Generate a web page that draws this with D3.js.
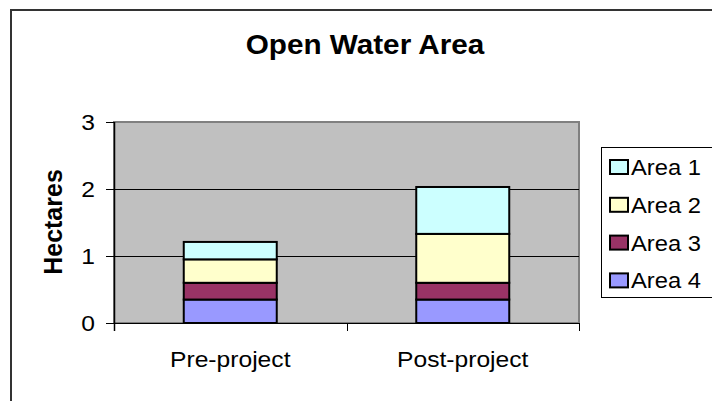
<!DOCTYPE html>
<html>
<head>
<meta charset="utf-8">
<script src="https://cdn.jsdelivr.net/npm/d3@7"></script>
<style>
  html, body { margin: 0; padding: 0; background: #fff; }
  svg { display: block; font-family: "Liberation Sans", Arial, sans-serif; }
</style>
</head>
<body>
<svg id="chart" width="712" height="401"></svg>
<script>
// Open water area (hectares) per project stage, split by area
const categories = ["Pre-project", "Post-project"];
const area1 = [0.26, 0.70];
const area2 = [0.35, 0.73];
const area3 = [0.25, 0.25];
const area4 = [0.35, 0.35];
const seriesNames = ["Area 1", "Area 2", "Area 3", "Area 4"];
const seriesColors = ["#CCFFFF", "#FFFFCC", "#993366", "#9999FF"];
const yTicks = [0, 1, 2, 3];

const rows = categories.map((c, i) => ({
  category: c,
  "Area 1": area1[i], "Area 2": area2[i], "Area 3": area3[i], "Area 4": area4[i]
}));

const svg = d3.select("#chart");
const plot = { left: 114, right: 579, top: 122, bottom: 323 };
const sx = 1.12; // horizontal text stretch

// outer chart frame
svg.append("rect")
  .attr("x", 11).attr("y", 10).attr("width", 740).attr("height", 420)
  .attr("fill", "#fff").attr("stroke", "#333").attr("stroke-width", 2);

const x = d3.scaleBand().domain(categories)
  .range([plot.left, plot.right]).paddingInner(0.6).paddingOuter(0.3);
const y = d3.scaleLinear().domain([0, 3]).range([plot.bottom, plot.top]);

// plot area background
svg.append("rect")
  .attr("x", plot.left).attr("y", plot.top)
  .attr("width", plot.right - plot.left).attr("height", plot.bottom - plot.top)
  .attr("fill", "#C0C0C0").attr("stroke", "#808080").attr("stroke-width", 2);

// horizontal gridlines
svg.append("g").selectAll("line").data(yTicks.filter(t => t > 0 && t < 3)).join("line")
  .attr("x1", plot.left).attr("x2", plot.right)
  .attr("y1", d => Math.round(y(d)) + 0.5).attr("y2", d => Math.round(y(d)) + 0.5)
  .attr("stroke", "#000").attr("stroke-width", 1);

// stacked bars (bottom: Area 4)
const stack = d3.stack().keys(seriesNames.slice().reverse());
const layers = stack(rows);
svg.append("g").selectAll("g").data(layers).join("g")
  .attr("fill", d => seriesColors[seriesNames.indexOf(d.key)])
  .selectAll("rect").data(d => d).join("rect")
  .attr("x", d => x(d.data.category))
  .attr("width", x.bandwidth())
  .attr("y", d => y(d[1]))
  .attr("height", d => y(d[0]) - y(d[1]))
  .attr("stroke", "#000").attr("stroke-width", 2);

// y axis
const yAxis = d3.axisLeft(y).tickValues(yTicks).tickSize(8).tickPadding(10).tickFormat(d3.format("d"));
const gy = svg.append("g").attr("transform", `translate(${plot.left},0)`).call(yAxis);
gy.select(".domain").remove();
gy.selectAll(".tick line").attr("stroke", "#000").attr("stroke-width", 1);
gy.selectAll(".tick text")
  .attr("font-size", 22).attr("fill", "#000").attr("font-family", "Liberation Sans, Arial, sans-serif")
  .attr("dy", "0.36em")
  .attr("transform", `scale(${sx},1)`)
  .attr("x", -19 / sx);

// vertical axis line
svg.append("line")
  .attr("x1", plot.left + 0.5).attr("x2", plot.left + 0.5)
  .attr("y1", plot.top).attr("y2", plot.bottom + 8)
  .attr("stroke", "#000").attr("stroke-width", 1.5);

// category axis: line plus ticks at category boundaries
svg.append("line")
  .attr("x1", plot.left).attr("x2", plot.right)
  .attr("y1", plot.bottom + 0.5).attr("y2", plot.bottom + 0.5)
  .attr("stroke", "#000").attr("stroke-width", 1);
const boundaries = d3.range(categories.length + 1).map(i => plot.left + i * x.step());
svg.append("g").selectAll("line").data(boundaries).join("line")
  .attr("x1", d => Math.round(d) + 0.5).attr("x2", d => Math.round(d) + 0.5)
  .attr("y1", plot.bottom).attr("y2", plot.bottom + 8)
  .attr("stroke", "#000").attr("stroke-width", 1);

// category labels
svg.append("g").selectAll("text").data(categories).join("text")
  .attr("transform", d => `translate(${x(d) + x.bandwidth() / 2},367) scale(${sx},1)`)
  .attr("text-anchor", "middle").attr("font-size", 22).attr("fill", "#000")
  .text(d => d);

// title
svg.append("text")
  .attr("transform", `translate(365,54) scale(1.1,1)`)
  .attr("text-anchor", "middle").attr("font-size", 27).attr("font-weight", "bold")
  .text("Open Water Area");

// y axis title
svg.append("text")
  .attr("transform", "translate(62,222) rotate(-90)")
  .attr("text-anchor", "middle").attr("font-size", 25).attr("font-weight", "bold")
  .text("Hectares");

// legend
const legend = svg.append("g");
legend.append("rect")
  .attr("x", 601.5).attr("y", 147.5).attr("width", 200).attr("height", 150)
  .attr("fill", "#fff").attr("stroke", "#000").attr("stroke-width", 1);
const items = legend.selectAll("g.item").data(seriesNames).join("g")
  .attr("class", "item")
  .attr("transform", (d, i) => `translate(0,${175 + i * 37.8})`);
items.append("rect")
  .attr("x", 610).attr("y", -15).attr("width", 18).attr("height", 14)
  .attr("fill", (d, i) => seriesColors[i]).attr("stroke", "#000").attr("stroke-width", 2);
items.append("text")
  .attr("transform", `translate(631,0) scale(1.08,1)`)
  .attr("font-size", 22).attr("fill", "#000")
  .text(d => d);
</script>
</body>
</html>
